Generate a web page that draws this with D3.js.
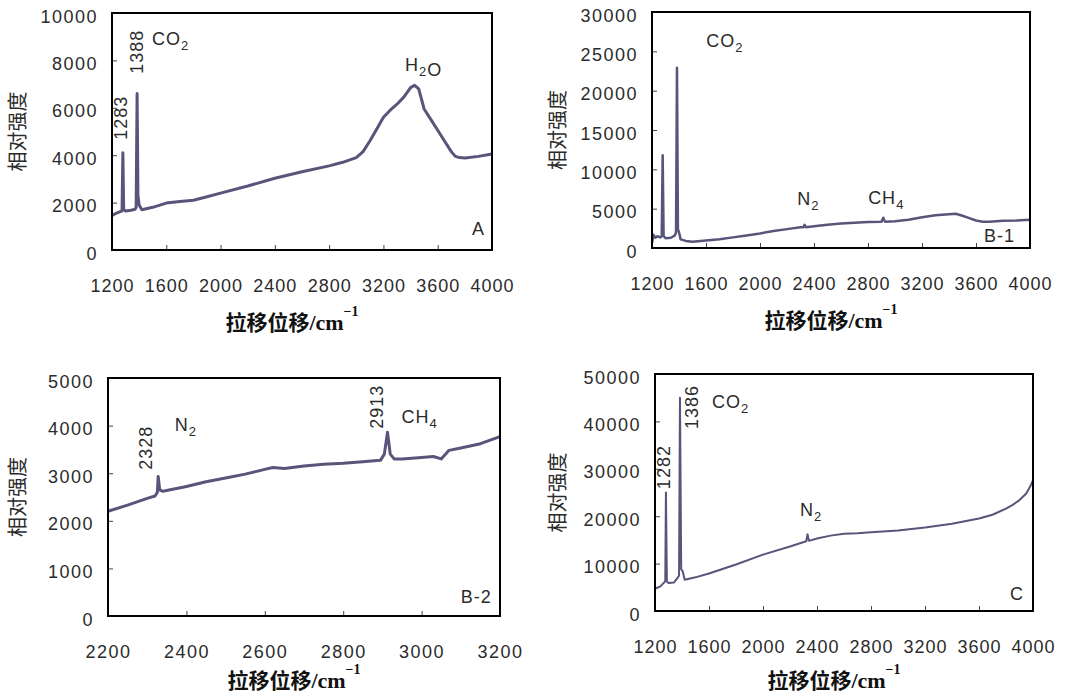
<!DOCTYPE html>
<html>
<head>
<meta charset="utf-8">
<script src="https://cdn.jsdelivr.net/npm/d3@7"></script>
<style>
  body { margin: 0; background: #fff; }
  svg { display: block; }
</style>
</head>
<body>
<svg id="chart" width="1065" height="695"></svg>
<script>
// tick values
const xTicksWide = [1200, 1600, 2000, 2400, 2800, 3200, 3600, 4000];
const xTicksB2 = [2200, 2400, 2600, 2800, 3000, 3200];
const yTicksA = [0, 2000, 4000, 6000, 8000, 10000];
const yTicksB1 = [0, 5000, 10000, 15000, 20000, 25000, 30000];
const yTicksB2 = [0, 1000, 2000, 3000, 4000, 5000];
const yTicksC = [0, 10000, 20000, 30000, 40000, 50000];

// spectrum A
const aShift = [1200, 1230, 1260, 1274, 1280, 1286, 1300, 1340, 1370, 1378, 1385, 1391, 1400, 1420, 1460, 1500,
  1600, 1700, 1800, 1900, 2000, 2200, 2400, 2600, 2800, 2900, 3000, 3050, 3100, 3150, 3200, 3250,
  3300, 3350, 3400, 3430, 3460, 3500, 3550, 3600, 3650, 3700, 3730, 3760, 3800, 3900, 4000];
const aIntensity = [1450, 1550, 1620, 1650, 4100, 1700, 1650, 1680, 1720, 1800, 6600, 2300, 1900, 1700, 1750, 1800,
  1980, 2050, 2100, 2250, 2400, 2700, 3030, 3300, 3550, 3700, 3900, 4150, 4600, 5100, 5600, 5900,
  6150, 6450, 6850, 6950, 6800, 5950, 5500, 5050, 4600, 4150, 3950, 3900, 3880, 3950, 4050];

// spectrum B-1
const b1Shift = [1200, 1210, 1225, 1240, 1260, 1272, 1279, 1286, 1300, 1340, 1370, 1378, 1385, 1392, 1400, 1412,
  1450, 1500, 1600, 1700, 1800, 1900, 2000, 2100, 2200, 2300, 2322, 2330, 2340, 2400, 2500, 2600,
  2700, 2800, 2900, 2913, 2925, 3000, 3100, 3200, 3300, 3400, 3450, 3500, 3550, 3600, 3650, 3700,
  3800, 3900, 4000];
const b1Intensity = [600, 1700, 1300, 1500, 1350, 1500, 11800, 1500, 1250, 1300, 1600, 2000, 22900, 2400, 2000, 1100,
  900, 800, 950, 1100, 1350, 1600, 1850, 2150, 2400, 2650, 2650, 2950, 2650, 2750, 2950, 3100,
  3200, 3300, 3350, 3850, 3350, 3400, 3600, 3900, 4150, 4300, 4350, 4100, 3800, 3500, 3350, 3350,
  3450, 3500, 3600];

// spectrum B-2
const b2Shift = [2200, 2250, 2300, 2320, 2326, 2328, 2332, 2340, 2400, 2450, 2500, 2550, 2600, 2620, 2650, 2700,
  2750, 2800, 2850, 2895, 2905, 2913, 2920, 2930, 2950, 3000, 3030, 3050, 3070, 3100, 3150, 3200];
const b2Intensity = [2200, 2330, 2470, 2520, 2600, 2930, 2650, 2620, 2720, 2820, 2900, 2980, 3080, 3120, 3100, 3150,
  3190, 3210, 3240, 3270, 3400, 3860, 3400, 3300, 3300, 3330, 3350, 3300, 3480, 3530, 3620, 3770];

// spectrum C
const cShift = [1200, 1240, 1270, 1276, 1281, 1288, 1300, 1340, 1370, 1378, 1385, 1394, 1405, 1420, 1500, 1600,
  1800, 2000, 2200, 2320, 2330, 2340, 2400, 2500, 2600, 2700, 2800, 3000, 3200, 3400, 3600, 3700,
  3800, 3850, 3900, 3950, 3980, 4000];
const cIntensity = [4700, 5200, 6100, 6300, 25000, 6200, 5900, 6000, 7100, 7500, 45000, 8800, 8400, 6600, 7100, 7900,
  9800, 11900, 13600, 14700, 16200, 14800, 15300, 15900, 16300, 16400, 16600, 17000, 17600, 18400, 19500, 20300,
  21600, 22400, 23400, 24800, 26300, 27600];

const lineColor = "#58557a";
const textColor = "#2b2b2b";
const svg = d3.select("#chart");

const panels = [
  { left: 112, top: 13, right: 492, bottom: 250, xDomain: [1200, 4000], yDomain: [0, 10000],
    xTicks: xTicksWide, yTicks: yTicksA, shift: aShift, intensity: aIntensity, width: 3,
    titleGap: 80, yTitleX: 18, xSpacing: 1,
    labels: [
      { x: 1310, y: 5577, rot: true, parts: [["1283"]] },
      { x: 1432, y: 8365, rot: true, parts: [["1388"]] },
      { x: 1495, y: 8660, parts: [["CO"], ["2", 1]] },
      { x: 3359, y: 7533, parts: [["H"], ["2", 1], ["O"]] },
      { x: 3949, y: 634, anchor: "end", parts: [["A"]] }
    ] },
  { left: 652, top: 12, right: 1030, bottom: 248, xDomain: [1200, 4000], yDomain: [0, 30000],
    xTicks: xTicksWide, yTicks: yTicksB1, shift: b1Shift, intensity: b1Intensity, width: 2.5,
    titleGap: 80, yTitleX: 558, xSpacing: 1,
    labels: [
      { x: 1602, y: 25550, parts: [["CO"], ["2", 1]] },
      { x: 2275, y: 5430, parts: [["N"], ["2", 1]] },
      { x: 2801, y: 5550, parts: [["CH"], ["4", 1]] },
      { x: 3889, y: 760, anchor: "end", parts: [["B-1"]] }
    ] },
  { left: 108, top: 378, right: 500, bottom: 616, xDomain: [2200, 3200], yDomain: [0, 5000],
    xTicks: xTicksB2, yTicks: yTicksB2, shift: b2Shift, intensity: b2Intensity, width: 3,
    titleGap: 72, yTitleX: 18, xSpacing: 1.5,
    labels: [
      { x: 2312, y: 3534, rot: true, parts: [["2328"]] },
      { x: 2370, y: 3877, parts: [["N"], ["2", 1]] },
      { x: 2901, y: 4396, rot: true, parts: [["2913"]] },
      { x: 2949, y: 4053, parts: [["CH"], ["4", 1]] },
      { x: 3179, y: 280, anchor: "end", parts: [["B-2"]] }
    ] },
  { left: 655, top: 374, right: 1033, bottom: 611, xDomain: [1200, 4000], yDomain: [0, 50000],
    xTicks: xTicksWide, yTicks: yTicksC, shift: cShift, intensity: cIntensity, width: 2,
    titleGap: 77, yTitleX: 558, xSpacing: 1,
    labels: [
      { x: 1311, y: 30355, rot: true, parts: [["1282"]] },
      { x: 1518, y: 43030, rot: true, parts: [["1386"]] },
      { x: 1622, y: 42750, parts: [["CO"], ["2", 1]] },
      { x: 2274, y: 20000, parts: [["N"], ["2", 1]] },
      { x: 3933, y: 2400, anchor: "end", parts: [["C"]] }
    ] }
];

function addParts(text, parts) {
  parts.forEach(([s, sub]) => {
    text.append("tspan")
      .attr("font-size", sub ? 13 : 18)
      .attr("dy", sub ? 5 : 0)
      .text(s);
    if (sub) text.append("tspan").attr("dy", -5).text("");
  });
}

panels.forEach(p => {
  const x = d3.scaleLinear().domain(p.xDomain).range([p.left, p.right]);
  const y = d3.scaleLinear().domain(p.yDomain).range([p.bottom, p.top]);
  const g = svg.append("g");

  const xAxis = g.append("g")
    .attr("transform", `translate(0,${p.bottom})`)
    .call(d3.axisBottom(x).tickValues(p.xTicks).tickSize(-5).tickPadding(29).tickFormat(d3.format("d")));
  xAxis.select(".domain").remove();
  xAxis.selectAll("line").attr("stroke", "#444");
  xAxis.selectAll("text")
    .attr("fill", textColor)
    .style("font-family", "'Liberation Sans', Arial, sans-serif")
    .style("font-size", "18px")
    .style("letter-spacing", p.xSpacing + "px");

  const yAxis = g.append("g")
    .attr("transform", `translate(${p.left},0)`)
    .call(d3.axisLeft(y).tickValues(p.yTicks).tickSize(-5).tickPadding(14).tickFormat(d3.format("d")));
  yAxis.select(".domain").remove();
  yAxis.selectAll("line").attr("stroke", "#444");
  yAxis.selectAll("text")
    .attr("fill", textColor)
    .attr("dy", "0.5em")
    .style("font-family", "'Liberation Sans', Arial, sans-serif")
    .style("font-size", "18px")
    .style("letter-spacing", "1.5px");

  const pts = p.shift.map((s, i) => [s, p.intensity[i]]);
  g.append("path")
    .datum(pts)
    .attr("fill", "none")
    .attr("stroke", lineColor)
    .attr("stroke-width", p.width)
    .attr("stroke-linejoin", "round")
    .attr("d", d3.line().x(d => x(d[0])).y(d => y(d[1])));

  g.append("rect")
    .attr("x", p.left).attr("y", p.top)
    .attr("width", p.right - p.left).attr("height", p.bottom - p.top)
    .attr("fill", "none")
    .attr("stroke", "#000")
    .attr("stroke-width", 2);

  p.labels.forEach(l => {
    const t = g.append("text")
      .attr("fill", textColor)
      .style("font-family", "'Liberation Sans', Arial, sans-serif")
      .style("letter-spacing", "1px");
    if (l.rot) {
      t.attr("transform", `translate(${x(l.x)},${y(l.y)}) rotate(-90)`)
        .attr("text-anchor", "middle")
        .attr("dy", "0.35em");
    } else {
      t.attr("x", x(l.x)).attr("y", y(l.y))
        .attr("text-anchor", l.anchor || "start");
    }
    addParts(t, l.parts);
  });

  // axis titles
  const cx = (p.left + p.right) / 2 - 10;
  const xt = g.append("text")
    .attr("x", cx).attr("y", p.bottom + p.titleGap)
    .attr("text-anchor", "middle")
    .attr("fill", "#111");
  xt.append("tspan")
    .style("font-family", "'Noto Sans CJK SC', sans-serif")
    .style("font-weight", 700)
    .style("font-size", "21px")
    .text("拉移位移");
  xt.append("tspan")
    .style("font-family", "'Liberation Serif', serif")
    .style("font-weight", 700)
    .style("font-size", "22px")
    .text("/cm");
  xt.append("tspan")
    .attr("dy", -14)
    .style("font-family", "'Liberation Serif', serif")
    .style("font-weight", 700)
    .style("font-size", "14px")
    .text("−1");

  g.append("text")
    .attr("transform", `translate(${p.yTitleX},${(p.top + p.bottom) / 2}) rotate(-90)`)
    .attr("text-anchor", "middle")
    .attr("dy", "0.35em")
    .attr("fill", textColor)
    .style("font-family", "'Noto Sans CJK SC', sans-serif")
    .style("font-size", "20px")
    .text("相对强度");
});
</script>
</body>
</html>
